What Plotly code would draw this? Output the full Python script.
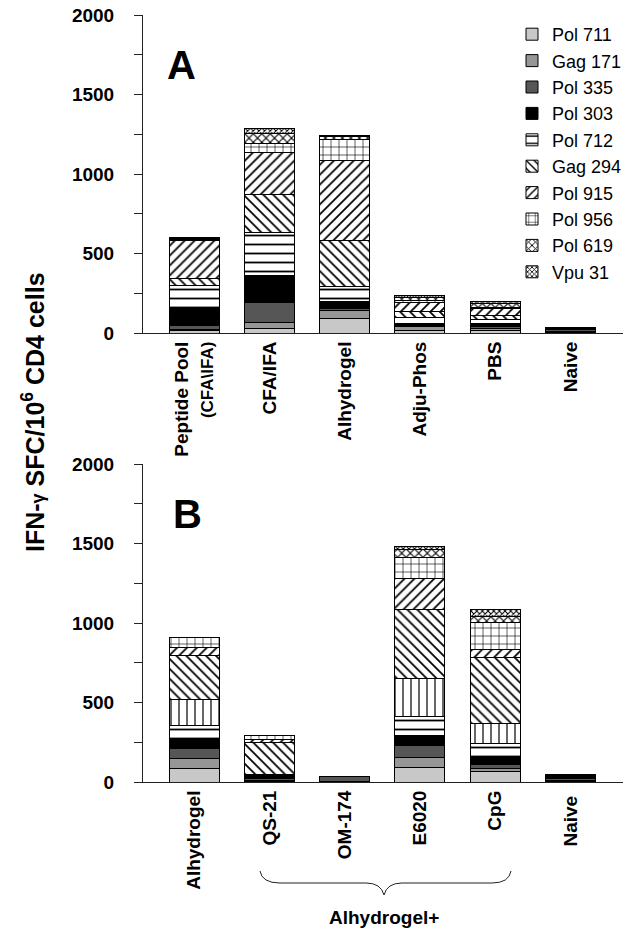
import plotly.graph_objects as go

cats_a = ["Peptide Pool<br><span style='font-size:17px'>(CFA\\IFA)</span>", "CFA/IFA", "Alhydrogel", "Adju-Phos", "PBS", "Naive"]
cats_b = ["Alhydrogel", "QS-21", "OM-174", "E6020", "CpG", "Naive "]

series_names = ["Pol 711", "Gag 171", "Pol 335", "Pol 303", "Pol 712", "Other", "Gag 294", "Pol 915", "Pol 956", "Pol 619", "Vpu 31"]

vals_a = {
    "Pol 711": [15, 31, 94, 17, 17, 5],
    "Gag 171": [10, 36, 46, 21, 10, 5],
    "Pol 335": [25, 122, 17, 10, 15, 15],
    "Pol 303": [110, 174, 38, 10, 17, 10],
    "Pol 712": [140, 266, 99, 42, 27, 0],
    "Other":   [0, 0, 0, 0, 0, 0],
    "Gag 294": [40, 245, 289, 36, 25, 0],
    "Pol 915": [240, 260, 503, 55, 42, 0],
    "Pol 956": [10, 55, 130, 15, 10, 0],
    "Pol 619": [5, 65, 17, 20, 20, 0],
    "Vpu 31":  [5, 30, 10, 10, 15, 0],
}
vals_b = {
    "Pol 711": [84, 5, 3, 90, 63, 3],
    "Gag 171": [63, 5, 2, 61, 21, 5],
    "Pol 335": [63, 10, 30, 80, 25, 12],
    "Pol 303": [57, 30, 0, 63, 48, 25],
    "Pol 712": [90, 0, 0, 115, 84, 0],
    "Other":   [161, 0, 0, 241, 126, 0],
    "Gag 294": [279, 199, 0, 434, 419, 0],
    "Pol 915": [52, 20, 0, 195, 46, 0],
    "Pol 956": [60, 21, 0, 130, 174, 0],
    "Pol 619": [0, 0, 0, 55, 38, 0],
    "Vpu 31":  [0, 0, 0, 20, 42, 0],
}

styles = {
    "Pol 711": dict(color="#c8c8c8", shape="", size=8, sol=0.2),
    "Gag 171": dict(color="#969696", shape="", size=8, sol=0.2),
    "Pol 335": dict(color="#565656", shape="", size=8, sol=0.2),
    "Pol 303": dict(color="#000000", shape="", size=8, sol=0.2),
    "Pol 712": dict(color="white", shape="-", size=9, sol=0.2),
    "Other":   dict(color="white", shape="|", size=8, sol=0.15),
    "Gag 294": dict(color="white", shape="\\", size=7, sol=0.25),
    "Pol 915": dict(color="white", shape="/", size=7, sol=0.25),
    "Pol 956": dict(color="white", shape="+", size=8, sol=0.15),
    "Pol 619": dict(color="white", shape="x", size=6, sol=0.35),
    "Vpu 31":  dict(color="white", shape="x", size=4, sol=0.45),
}

FONT = "Liberation Sans, Arial, sans-serif"
fig = go.Figure()

for name in series_names:
    st = styles[name]
    for vals, cats, xa, ya, show in [(vals_a, cats_a, "x", "y", name != "Other"),
                                       (vals_b, cats_b, "x2", "y2", False)]:
        marker = dict(color=st["color"], line=dict(color="black", width=1))
        if st["shape"]:
            marker["pattern"] = dict(shape=st["shape"], fgcolor="black", bgcolor="white",
                                     size=st["size"], solidity=st["sol"], fillmode="replace")
        fig.add_trace(go.Bar(x=cats, y=vals[name], name=name, legendgroup=name,
                             showlegend=show, marker=marker, xaxis=xa, yaxis=ya,
                             hoverinfo="skip"))

# pixel -> paper helpers (plot area: x 143..623, y 15..782)
L, R, T, B = 143, 623, 15, 782
def px(x):
    return (x - L) / (R - L)
def py(y):
    return (B - y) / (B - T)

yax = dict(range=[0, 2000], tickvals=[0, 500, 1000, 1500, 2000], ticks="outside", ticklen=8,
           tickcolor="#222", showline=True, linecolor="#222", linewidth=1, showgrid=False,
           zeroline=False, tickfont=dict(family=FONT, size=19, color="black", weight="bold"),
           minor=dict(tickvals=[250, 750, 1250, 1750], ticks="outside", ticklen=8, tickcolor="#222"),
           ticklabelstandoff=16, automargin=False)
xax = dict(showline=True, linecolor="#222", linewidth=1, ticks="", showgrid=False,
           tickangle=-90, tickfont=dict(family=FONT, size=19, color="black", weight="bold"),
           range=[-0.68, 5.70], automargin=False)

fig.update_layout(
    width=640, height=938,
    margin=dict(l=L, r=640 - R, t=T, b=938 - B, autoexpand=False),
    paper_bgcolor="white", plot_bgcolor="white",
    barmode="stack", bargap=0.333,
    xaxis=dict(**xax, domain=[0, 1], anchor="y"),
    yaxis=dict(**yax, domain=[py(333), 1], anchor="x"),
    xaxis2=dict(**xax, domain=[0, 1], anchor="y2"),
    yaxis2=dict(**yax, domain=[0, py(464)], anchor="x2"),
    legend=dict(x=px(512), y=py(16), xanchor="left", yanchor="top", traceorder="normal",
                font=dict(family=FONT, size=18, color="black"), bgcolor="rgba(0,0,0,0)",
                itemwidth=30, tracegroupgap=0),
    showlegend=True,
)

fig.add_annotation(text="IFN-<span style='font-size:18px'>γ</span> SFC/10<sup>6</sup> CD4 cells",
                   x=px(33), y=py(412), xref="paper", yref="paper", textangle=-90,
                   xanchor="center", yanchor="middle",
                   showarrow=False, font=dict(family=FONT, size=25, color="black", weight="bold"))
fig.add_annotation(text="A", x=px(181), y=py(65), xref="paper", yref="paper", showarrow=False,
                   xanchor="center", yanchor="middle",
                   font=dict(family=FONT, size=40, color="black", weight="bold"))
fig.add_annotation(text="B", x=px(187), y=py(514), xref="paper", yref="paper", showarrow=False,
                   xanchor="center", yanchor="middle",
                   font=dict(family=FONT, size=40, color="black", weight="bold"))
fig.add_annotation(text="Alhydrogel+", x=px(384), y=py(917), xref="paper", yref="paper",
                   xanchor="center", yanchor="middle",
                   showarrow=False, font=dict(family=FONT, size=19, color="black", weight="bold"))

pts = [("M", 260, 871), ("Q", 262, 883, 280, 883), ("L", 366, 883), ("Q", 381, 883, 384, 895),
       ("Q", 387, 883, 402, 883), ("L", 492, 883), ("Q", 509, 883, 511, 871)]
path = ""
for p in pts:
    cmd = p[0]
    coords = p[1:]
    s = []
    for i in range(0, len(coords), 2):
        s.append(f"{px(coords[i]):.4f},{py(coords[i+1]):.4f}")
    path += cmd + " " + " ".join(s) + " "
fig.add_shape(type="path", path=path.strip(), xref="paper", yref="paper",
              line=dict(color="#222", width=1))

fig.write_html("out.html", config={"displayModeBar": False},
               post_script="document.body.style.margin='0';")
